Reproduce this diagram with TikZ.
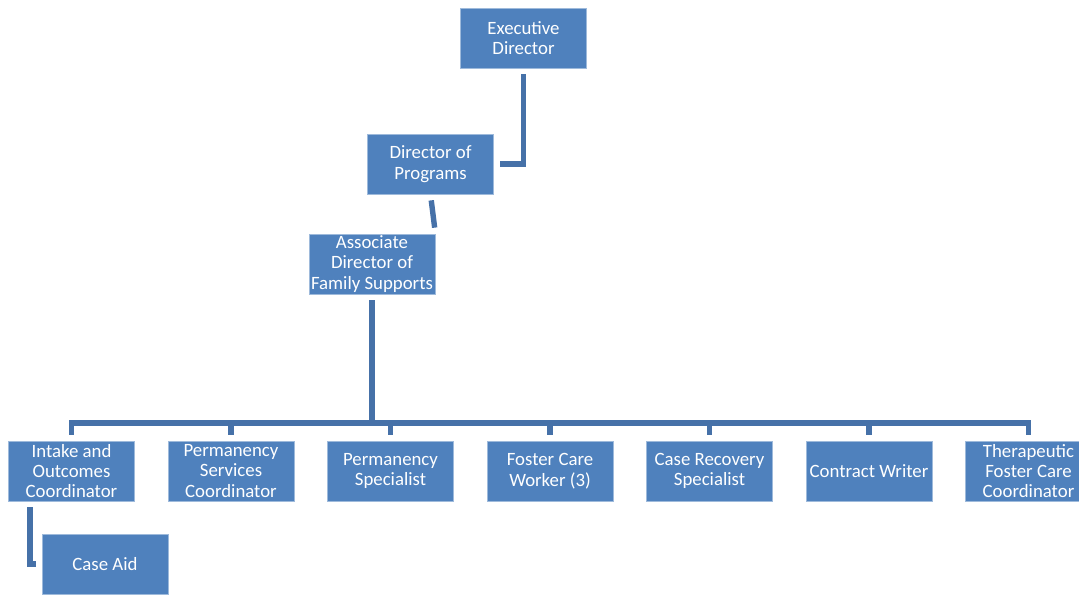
\documentclass[tikz,border=0pt]{standalone}
\usepackage{fontspec}
\setmainfont{Carlito}
\definecolor{boxblue}{HTML}{4F81BD}
\definecolor{lineblue}{HTML}{4671A8}
\tikzset{
  post/.style={rectangle, fill=boxblue, draw=boxblue!55!white, line width=0.4pt,
    text=white, minimum width=63pt, minimum height=30pt, align=center,
    inner xsep=1pt, inner ysep=0pt, font=\fontsize{9.4}{10.2}\selectfont},
  link/.style={draw=lineblue, line width=2.7pt, shorten <=3pt, shorten >=3pt}
}
\begin{document}
\begin{tikzpicture}[x=0.5pt,y=-0.5pt]
\useasboundingbox (0,0) rectangle (1079,595);
\clip (0,0) rectangle (1079,595);
% top of the chart
\node[post] (exec) at (523.5,38) {Executive\\Director};
\node[post] (dirprog) at (430.5,164) {Director of\\Programs};
\node[post] (assoc) at (372,264) {Associate\\Director of\\Family Supports};
% bottom row
\node[post] (intake) at (71.5,471) {Intake and\\Outcomes\\Coordinator};
\node[post] (permserv) at (231,471) {Permanency\\Services\\Coordinator};
\node[post] (permspec) at (390.5,471) {Permanency\\Specialist};
\node[post] (foster) at (550,471) {Foster Care\\Worker (3)};
\node[post] (recovery) at (709.5,471) {Case Recovery\\Specialist};
\node[post] (writer) at (869,471) {Contract Writer};
\node[post] (therap) at (1028.5,471) {Therapeutic\\Foster Care\\Coordinator};
\node[post] (caseaid) at (105,564) {Case Aid};
\coordinate (bus) at (372,423);
% connectors
\draw[link] (exec.south) |- (dirprog.east);
\draw[link] (dirprog.south) -- (assoc.north east);
\draw[link, shorten >=0pt] (assoc.south) -- (bus);
\foreach \n in {intake,permserv,permspec,foster,recovery,writer,therap}
  \draw[link, shorten <=0pt] (bus) -| (\n.north);
\draw[link] ([xshift=11]intake.south west) |- (caseaid.west);
\end{tikzpicture}
\end{document}
